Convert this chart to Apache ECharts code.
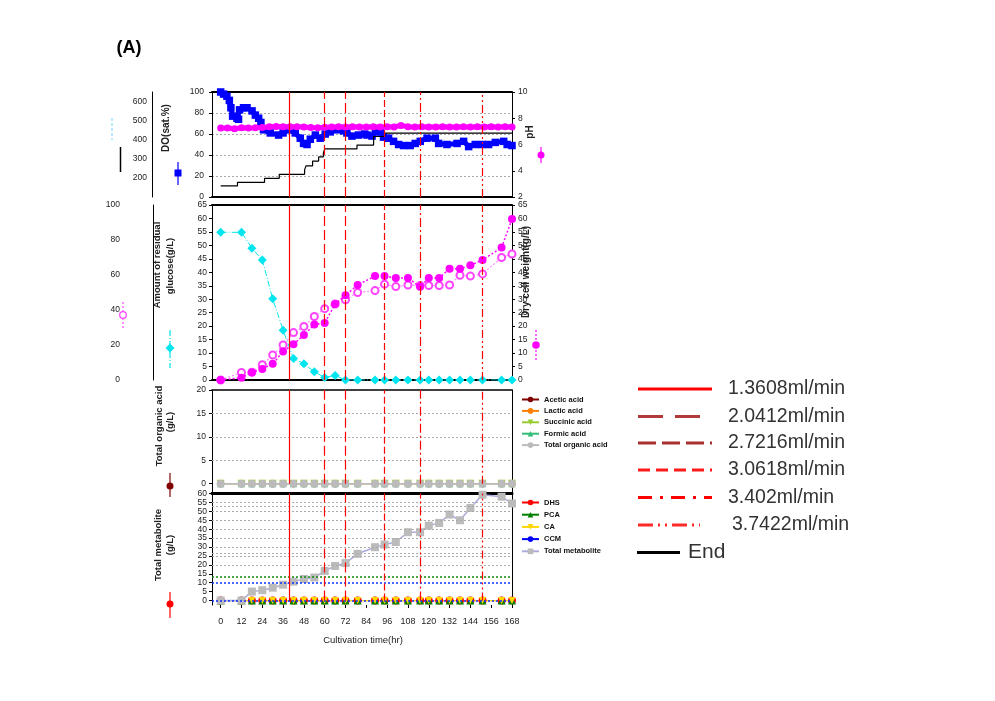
<!DOCTYPE html>
<html><head><meta charset="utf-8">
<script src="https://cdn.jsdelivr.net/npm/echarts@6/dist/echarts.min.js"></script>
<style>html,body{margin:0;padding:0;background:#fff}#c{width:995px;height:701px}</style>
</head><body><div id="c"></div>
<script>
// ---------- DATA ----------
const timeTicks = [0,12,24,36,48,60,72,84,96,108,120,132,144,156,168];
const sampleHours = [0,12,18,24,30,36,42,48,54,60,66,72,79,89,94.5,101,108,115,120,126,132,138,144,151,162,168];

// panel 1
const doHours = [0,1.7,3.6,5.0,5.9,6.9,9.4,10.3,10.9,13.2,15.2,18.1,20.0,21.9,23.2,24.7,28.6,33.4,36,39.2,43.0,45.9,47.8,49.8,51.7,54.6,57.4,60.3,63.2,67.1,70.9,72.8,75.7,79.5,83.0,84.4,87.3,89.2,92.0,93.9,96.8,99.7,102.6,105.5,109.3,112.2,115.1,119.0,123.8,125.7,130.5,136.3,140.1,143.0,146.8,150.7,154.5,158.4,163.2,165.2,168];
const doValues = [100,98,96,92,85,77,75,74,83,85,85,82,78,75,71,64,61,59,61,64,61,56,51,50,55,59,56,60,62,64,63,61,58,59,60,59,58,62,62,57,56,53,50,49,49,51,53,56,56,51,50,51,53,48,50,50,50,52,53,50,49];
const phHours = [0,4,8,12,16,20,24,28,32,36,40,44,48,52,56,60,64,68,72,76,80,84,88,92,96,100,104,108,112,116,120,124,128,132,136,140,144,148,152,156,160,164,168];
const phValues = [7.25,7.25,7.2,7.27,7.25,7.27,7.3,7.35,7.38,7.36,7.35,7.36,7.33,7.3,7.28,7.32,7.34,7.35,7.33,7.35,7.33,7.34,7.36,7.33,7.35,7.34,7.45,7.36,7.34,7.35,7.33,7.34,7.35,7.34,7.33,7.35,7.34,7.36,7.34,7.35,7.34,7.35,7.33];
const feedHours = [0,9.7,25.3,33.8,48.4,49.2,53,56.5,59.2,60,78.6,88.2,94.5,168];
const feedValues = [158,177,198,219,242,263,288,310,330,352,372,417,435,435];

// panel 2
const glucose = [84.4,84.4,75.3,68.6,46.4,28.5,12.3,9.3,4.7,1.5,2.6,0,0,0,0,0,0,0,0,0,0,0,0,0,0,0];
const dcwFilled = [0,0.8,2.8,4.1,6.0,10.6,13.3,16.7,20.6,21.2,28.2,31.5,35.3,38.6,38.6,37.9,37.9,34.6,37.9,37.9,41.3,41.3,42.6,44.6,49.2,59.8];
const dcwOpen = [0,2.8,2.9,5.7,9.3,13.0,17.6,19.9,23.6,26.5,28.2,29.8,32.5,33.2,35.6,34.7,35.3,35.1,35.1,35.1,35.3,38.9,38.6,39.4,45.5,46.8];

// panel 3
const aceticAcid = [0,0,0,0,0,0,0,0,0,0,0,0,0,0,0,0,0,0,0,0,0,0,0,0,0,0];
const lacticAcid = [0,0,0,0,0,0,0,0,0,0,0,0,0,0,0,0,0,0,0,0,0,0,0,0,0,0];
const succinicAcid = [0,0,0,0,0,0,0,0,0,0,0,0,0,0,0,0,0,0,0,0,0,0,0,0,0,0];
const formicAcid = [0,0,0,0,0,0,0,0,0,0,0,0,0,0,0,0,0,0,0,0,0,0,0,0,0,0];
const totalOrganicAcid = [0,0,0,0,0,0,0,0,0,0,0,0,0,0,0,0,0,0,0,0,0,0,0,0,0,0];

// panel 4
const dhs = [0,0,0,0,0,0,0,0,0,0,0,0,0,0,0,0,0,0,0,0,0,0,0,0,0,0];
const pca = [0,0,0,0,0,0,0,0,0,0,0,0,0,0,0,0,0,0,0,0,0,0,0,0,0,0];
const ca = [0,0,0,0,0,0,0,0,0,0,0,0,0,0,0,0,0,0,0,0,0,0,0,0,0,0];
const ccm = [0,0,0,0,0,0,0,0,0,0,0,0,0,0,0,0,0,0,0,0,0,0,0,0,0,0];
const totalMetabolite = [0,0,5,5.8,7.2,8.9,10.6,12.1,12.9,16.6,19.4,21,26.2,29.9,31.4,32.8,38.3,38.3,42,43.5,48.2,45,51.9,59.3,58.2,54.4];
const metaGrayRef = [20,25,26.5,30,35,40,45,50,53,55];
const metaGreenRef = [13.5];
const metaBlueRef = [10.2,0];

// feed-rate stages
const stageHours = [39.3,60,72,94.5,115.2,151];
const stageLabels = ['1.3608ml/min','2.0412ml/min','2.7216ml/min','3.0618ml/min','3.402ml/min','3.7422ml/min'];
const endLabel = 'End';

// ---------- STYLE ----------
const FONT = '"Liberation Sans", Arial, sans-serif';
const stagePlotStyles = [
  {color:'#ff0000', type:'solid', width:1.2},
  {color:'#ff0000', type:[10,4], width:1.2},
  {color:'#ff0000', type:[10,4], width:1.2},
  {color:'#ff0000', type:[7,3], width:1.2},
  {color:'#ff0000', type:[9,3,2,3], width:1.2},
  {color:'#ff0000', type:[8,3,2,3,2,3], width:1.2}
];
const stageLegendStyles = [
  {stroke:'#ff0000', lineDash:null, x2:712},
  {stroke:'#b03a3a', lineDash:[25,12], x2:700},
  {stroke:'#a83030', lineDash:[18,6], x2:712},
  {stroke:'#ff1a1a', lineDash:[12,6], x2:712},
  {stroke:'#ff0000', lineDash:[14,8,3,8], x2:712},
  {stroke:'#ff2a2a', lineDash:[15,5,2,5,2,5], x2:700}
];

function pairs(xs, ys){ return xs.map((x,i)=>[x, ys[i]]); }
function vLines(top){
  return stageHours.map((h,i)=> top==null
    ? {xAxis:h, lineStyle:stagePlotStyles[i]}
    : [{coord:[h,0], lineStyle:stagePlotStyles[i]},{coord:[h,top]}]);
}
function hLines(vals, style){ return vals.map(v=>({yAxis:v, lineStyle:style})); }
function mk(data){
  return {silent:true, symbol:'none', animation:false, label:{show:false}, emphasis:{disabled:true}, data:data};
}

const gridDefs = [
  {left:212, top:92, width:300, height:105},
  {left:212, top:205, width:300, height:175},
  {left:212, top:390, width:300, height:103},
  {left:212, top:493.5, width:300, height:111.5}
];
const topW = [2,2,1.5,3];
const xAxes = [];
for (let i=0;i<4;i++){
  xAxes.push({type:'value', gridIndex:i, min:-5, max:168, position:'bottom',
    axisLine:{show:i<3, onZero:false, lineStyle:{color:'#000', width:2}},
    axisTick:{show:i===3, customValues:timeTicks, length:3, lineStyle:{color:'#000'}},
    axisLabel:{show:i===3, customValues:timeTicks, fontSize:9, color:'#222', margin:12, fontFamily:FONT},
    splitLine:{show:false}});
  xAxes.push({type:'value', gridIndex:i, min:-5, max:168, position:'top',
    axisLine:{show:true, onZero:false, lineStyle:{color:'#000', width:topW[i]}},
    axisTick:{show:false}, axisLabel:{show:false}, splitLine:{show:false}});
}
const lbl = (m)=>({fontSize:8.5, color:'#222', margin:m, fontFamily:FONT});
const line1 = {show:true, onZero:false, lineStyle:{color:'#000', width:1}};
const tick = {show:true, length:3, lineStyle:{color:'#000'}};
const yAxes = [
  {type:'value', gridIndex:0, min:0, max:100, interval:20, axisLine:line1, axisTick:tick, axisLabel:lbl(8),
   splitLine:{show:true, showMinLine:false, showMaxLine:false, lineStyle:{color:'#aaa', type:[2,2]}}},
  {type:'value', gridIndex:0, position:'right', min:2, max:10, interval:2, axisLine:line1, axisTick:tick, axisLabel:lbl(6), splitLine:{show:false}},
  {type:'value', gridIndex:0, position:'left', offset:60, min:100, max:650, axisLine:line1, axisTick:{show:false},
   axisLabel:Object.assign(lbl(5),{customValues:[200,300,400,500,600]}), splitLine:{show:false}},
  {type:'value', gridIndex:1, min:0, max:65, interval:5, axisLine:line1, axisTick:tick, axisLabel:lbl(5), splitLine:{show:false}},
  {type:'value', gridIndex:1, position:'right', min:0, max:65, interval:5, axisLine:line1, axisTick:tick, axisLabel:lbl(6), splitLine:{show:false}},
  {type:'value', gridIndex:1, position:'left', offset:59, min:0, max:100, interval:20, axisLine:line1, axisTick:{show:false}, axisLabel:lbl(33), splitLine:{show:false}},
  {type:'value', gridIndex:2, min:-2, max:20, axisLine:line1, axisTick:Object.assign({customValues:[0,5,10,15,20]},tick),
   axisLabel:Object.assign(lbl(6),{customValues:[0,5,10,15,20]}), splitLine:{show:false}},
  {type:'value', gridIndex:2, position:'right', min:0, max:1, axisLine:line1, axisTick:{show:false}, axisLabel:{show:false}, splitLine:{show:false}},
  {type:'value', gridIndex:3, min:-2.5, max:60, axisLine:line1, axisTick:Object.assign({customValues:[0,5,10,15,20,25,30,35,40,45,50,55,60]},tick),
   axisLabel:Object.assign(lbl(5),{customValues:[0,5,10,15,20,25,30,35,40,45,50,55,60]}), splitLine:{show:false}},
  {type:'value', gridIndex:3, position:'right', min:0, max:1, axisLine:line1, axisTick:{show:false}, axisLabel:{show:false}, splitLine:{show:false}}
];

const noEmph = {disabled:true};
function ser(o){ return Object.assign({type:'line', animation:false, emphasis:noEmph}, o); }
const grayRef = {color:'#aaa', type:[2,2], width:1};
const series = [
  // panel 1
  ser({name:'_v1', xAxisIndex:0, yAxisIndex:0, data:[], z:1, markLine:mk(vLines(null))}),
  ser({name:'DO', xAxisIndex:0, yAxisIndex:0, data:pairs(doHours,doValues), symbol:'rect', symbolSize:7.5,
       itemStyle:{color:'#0000ff'}, lineStyle:{color:'#0000ff', width:5}, z:2}),
  ser({name:'pH', xAxisIndex:0, yAxisIndex:1, data:pairs(phHours,phValues), symbol:'circle', symbolSize:7,
       itemStyle:{color:'#ff00ff'}, lineStyle:{color:'#ff00ff', width:5}, z:3}),
  ser({name:'Feed', xAxisIndex:0, yAxisIndex:2, data:pairs(feedHours,feedValues), step:'end', symbol:'none',
       lineStyle:{color:'#000', width:1.2}, z:4}),
  // panel 2
  ser({name:'_v2', xAxisIndex:2, yAxisIndex:3, data:[], z:1, markLine:mk(vLines(65))}),
  ser({name:'Glucose', xAxisIndex:2, yAxisIndex:5, data:pairs(sampleHours,glucose), symbol:'diamond', symbolSize:9,
       itemStyle:{color:'#00e5ee'}, lineStyle:{color:'#00e5ee', width:1, type:[6,2,1,2]}, z:3}),
  ser({name:'DCW open', xAxisIndex:2, yAxisIndex:3, data:pairs(sampleHours,dcwOpen), symbol:'emptyCircle', symbolSize:7,
       itemStyle:{color:'#ff44ff', borderWidth:1.3}, lineStyle:{color:'#ff88ff', width:1.2, type:[2,2]}, z:3}),
  ser({name:'DCW', xAxisIndex:2, yAxisIndex:4, data:pairs(sampleHours,dcwFilled), symbol:'circle', symbolSize:8,
       itemStyle:{color:'#ff00ff'}, lineStyle:{color:'#ff00ff', width:1.5, type:[2,2]}, z:4}),
  // panel 3
  ser({name:'_v3', xAxisIndex:4, yAxisIndex:6, data:[], z:1,
       markLine:mk(hLines([5,10,15],grayRef).concat(vLines(20)))}),
  ser({name:'Acetic acid', xAxisIndex:4, yAxisIndex:6, data:pairs(sampleHours,aceticAcid), symbol:'circle', symbolSize:7,
       itemStyle:{color:'#800000'}, lineStyle:{color:'#800000', width:1}, z:2}),
  ser({name:'Lactic acid', xAxisIndex:4, yAxisIndex:6, data:pairs(sampleHours,lacticAcid), symbol:'circle', symbolSize:7,
       itemStyle:{color:'#ff8000'}, lineStyle:{color:'#ff8000', width:1}, z:2}),
  ser({name:'Succinic acid', xAxisIndex:4, yAxisIndex:6, data:pairs(sampleHours,succinicAcid), symbol:'triangle', symbolRotate:180, symbolSize:8,
       itemStyle:{color:'#99cc33'}, lineStyle:{color:'#99cc33', width:1}, z:2}),
  ser({name:'Formic acid', xAxisIndex:4, yAxisIndex:6, data:pairs(sampleHours,formicAcid), symbol:'triangle', symbolSize:7,
       itemStyle:{color:'#33bb77'}, lineStyle:{color:'#33bb77', width:1}, z:2}),
  ser({name:'Total organic acid', xAxisIndex:4, yAxisIndex:6, data:pairs(sampleHours,totalOrganicAcid), symbol:'circle', symbolSize:8,
       itemStyle:{color:'#bbbbbb'}, lineStyle:{color:'#bbbbbb', width:1.5}, z:3}),
  // panel 4
  ser({name:'_v4', xAxisIndex:6, yAxisIndex:8, data:[], z:1,
       markLine:mk(hLines(metaGrayRef,grayRef)
         .concat(hLines(metaGreenRef,{color:'#118811', type:[2,2], width:1.5}))
         .concat(hLines(metaBlueRef,{color:'#1030ff', type:[2,2], width:1.5}))
         .concat(vLines(60)))}),
  ser({name:'CCM', xAxisIndex:6, yAxisIndex:8, data:pairs(sampleHours,ccm), symbol:'circle', symbolSize:6,
       itemStyle:{color:'#0000ff'}, lineStyle:{color:'#0000ff', width:1}, z:2}),
  ser({name:'DHS', xAxisIndex:6, yAxisIndex:8, data:pairs(sampleHours,dhs), symbol:'circle', symbolSize:8,
       itemStyle:{color:'#ff0000'}, lineStyle:{color:'#ff0000', width:1}, z:2}),
  ser({name:'PCA', xAxisIndex:6, yAxisIndex:8, data:pairs(sampleHours,pca), symbol:'triangle', symbolSize:8,
       itemStyle:{color:'#008000'}, lineStyle:{color:'#008000', width:1}, z:2}),
  ser({name:'CA', xAxisIndex:6, yAxisIndex:8, data:pairs(sampleHours,ca), symbol:'triangle', symbolRotate:180, symbolSize:7,
       itemStyle:{color:'#ffd700'}, lineStyle:{color:'#ffd700', width:1.2}, z:2}),
  ser({name:'Total metabolite', xAxisIndex:6, yAxisIndex:8, data:pairs(sampleHours,totalMetabolite), symbol:'rect', symbolSize:8,
       itemStyle:{color:'#bbbbbb'}, lineStyle:{color:'#aaaadd', width:1.5}, z:3})
];

const legTxt = {fontSize:7.5, fontWeight:'bold', color:'#111', fontFamily:FONT, lineHeight:9};
const legends = [
  {orient:'vertical', left:521, top:395, padding:0, itemWidth:17, itemHeight:7, itemGap:2.4, selectedMode:false, textStyle:legTxt,
   data:['Acetic acid','Lactic acid','Succinic acid','Formic acid','Total organic acid']},
  {orient:'vertical', left:521, top:498, padding:0, itemWidth:17, itemHeight:7, itemGap:3.2, selectedMode:false, textStyle:legTxt,
   data:['DHS','PCA','CA','CCM','Total metabolite']}
];

// ---------- GRAPHIC (titles & decorations) ----------
function txt(x,y,text,font,opts){
  return Object.assign({type:'text', x:x, y:y, silent:true,
    style:{text:text, font:font, fill:'#222', textAlign:'center', textVerticalAlign:'middle', align:'center', verticalAlign:'middle'}}, opts||{});
}
function rtxt(x,y,text,font){ return txt(x,y,text,font,{rotation:Math.PI/2}); }
function vseg(x,y1,y2,stroke,dash,w){
  return {type:'line', silent:true, shape:{x1:x,y1:y1,x2:x,y2:y2}, style:{stroke:stroke, lineWidth:w||1.2, lineDash:dash||null}};
}
const g = [];
g.push({type:'text', x:129, y:48, silent:true, style:{text:'(A)', font:'bold 18px '+FONT, fill:'#000', textAlign:'center', textVerticalAlign:'middle', align:'center', verticalAlign:'middle'}});
// panel 1 side marks
g.push(vseg(112,118,140,'#88ddff',[3,2],1.2));
g.push(vseg(120.5,147,172,'#000',null,1.5));
g.push(vseg(178,162,185,'#0000ff',null,1.2));
g.push({type:'rect', silent:true, shape:{x:174.5,y:169.5,width:7,height:7}, style:{fill:'#0000ff'}});
g.push(rtxt(166,128,'DO(sat.%)','bold 10px '+FONT));
g.push(rtxt(530,132,'pH','bold 10px '+FONT));
g.push(vseg(541,147,163,'#ff00ff',null,1.2));
g.push({type:'circle', silent:true, shape:{cx:541,cy:155,r:3.5}, style:{fill:'#ff00ff'}});
// panel 2 side marks
g.push(rtxt(157,265,'Amount of residual','bold 9.5px '+FONT));
g.push(rtxt(170,266,'glucose(g/L)','bold 9.5px '+FONT));
g.push(vseg(123,302,328,'#ff44ff',[2,2],1.2));
g.push({type:'circle', silent:true, shape:{cx:123,cy:315,r:3.3}, style:{fill:'#fff', stroke:'#ff44ff', lineWidth:1.3}});
g.push(vseg(170,330,368,'#00e5ee',[6,2,1,2],1.2));
g.push({type:'polygon', silent:true, shape:{points:[[170,343.5],[174.5,348],[170,352.5],[165.5,348]]}, style:{fill:'#00e5ee'}});
g.push(rtxt(526,272,'Dry cell weight(g/L)','bold 10px '+FONT));
g.push(vseg(536,330,362,'#ff00ff',[2,2],1.2));
g.push({type:'circle', silent:true, shape:{cx:536,cy:345,r:3.8}, style:{fill:'#ff00ff'}});
// panel 3 side marks
g.push(rtxt(159,426,'Total organic acid','bold 9.5px '+FONT));
g.push(rtxt(170,422,'(g/L)','bold 9.5px '+FONT));
g.push(vseg(170,473,497,'#800000',null,1.2));
g.push({type:'circle', silent:true, shape:{cx:170,cy:486,r:3.5}, style:{fill:'#800000'}});
// panel 4 side marks
g.push(rtxt(158,545,'Total metabolite','bold 9.5px '+FONT));
g.push(rtxt(170,545,'(g/L)','bold 9.5px '+FONT));
g.push(vseg(170,592,618,'#ff0000',null,1.2));
g.push({type:'circle', silent:true, shape:{cx:170,cy:604,r:3.5}, style:{fill:'#ff0000'}});
// x axis title
g.push(txt(363,640,'Cultivation time(hr)','9.5px '+FONT));
// stage legend
const rowY = [389,416.5,443,470,497.5,525];
stageLabels.forEach((s,i)=>{
  const st = stageLegendStyles[i];
  g.push({type:'line', silent:true, shape:{x1:638,y1:rowY[i],x2:st.x2,y2:rowY[i]}, style:{stroke:st.stroke, lineWidth:3, lineDash:st.lineDash}});
  g.push({type:'text', silent:true, x:(i===5?732:728), y:rowY[i],
    style:{text:s, font:'19.5px '+FONT, fill:'#333', textAlign:'left', align:'left', textVerticalAlign:'middle', verticalAlign:'middle'}});
});
g.push({type:'line', silent:true, shape:{x1:637,y1:552.5,x2:680,y2:552.5}, style:{stroke:'#000', lineWidth:3}});
g.push({type:'text', silent:true, x:688, y:552.5,
  style:{text:endLabel, font:'21px '+FONT, fill:'#333', textAlign:'left', align:'left', textVerticalAlign:'middle', verticalAlign:'middle'}});

const chart = echarts.init(document.getElementById('c'));
chart.setOption({
  animation:false,
  backgroundColor:'#fff',
  grid:gridDefs,
  xAxis:xAxes,
  yAxis:yAxes,
  legend:legends,
  series:series,
  graphic:{elements:g}
});
</script></body></html>
